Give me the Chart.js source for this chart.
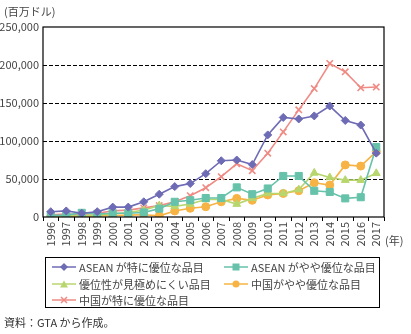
<!DOCTYPE html>
<html lang="ja">
<head>
<meta charset="UTF-8">
<title>品目別輸入額</title>
<script src="https://cdn.jsdelivr.net/npm/chart.js"></script>
<style>
  body { margin: 0; background: #fff; font-family: "Noto Sans CJK JP", "Noto Sans", sans-serif; color: #333; }
  #wrap { position: relative; width: 411px; height: 334px; }
  #unit { position: absolute; left: 4px; top: 3px; font-size: 11px; color: #444; }
  #year { position: absolute; left: 385px; top: 232px; font-size: 11px; color: #444; }
  #legend { position: absolute; left: 45px; top: 257px; width: 335px; height: 51px; border: 1px solid #000;
            display: grid; grid-template-columns: 172px 160px; grid-auto-rows: 16.5px; padding-top: 1px; box-sizing: border-box; }
  #legend div { font-size: 11px; color: #444; white-space: nowrap; display: flex; align-items: center; }
  #legend svg { margin: 0 3px 0 6px; }
  #note { position: absolute; left: 4px; top: 314px; font-size: 11px; color: #333; }
</style>
<script>
const years = ['1996','1997','1998','1999','2000','2001','2002','2003','2004','2005','2006',
               '2007','2008','2009','2010','2011','2012','2013','2014','2015','2016','2017']
const seriesNames = ['ASEAN が特に優位な品目', 'ASEAN がやや優位な品目', '優位性が見極めにくい品目',
                     '中国がやや優位な品目', '中国が特に優位な品目']
const aseanStrong = [7000, 8000, 5000, 7000, 13000, 13000, 20000, 30000, 40000, 44000, 57000,
                     74000, 75000, 69000, 108000, 131000, 129000, 133000, 146000, 127000, 121000, 84000]
const aseanSlight = [2000, 2500, 5500, 4000, 5000, 5000, 6000, 11000, 20000, 22000, 25000,
                     25000, 39000, 30000, 37500, 54000, 54000, 34500, 33000, 24500, 26000, 92000]
const unclear = [1000, 1500, 2000, 2500, 4000, 6000, 9000, 15000, 14000, 17000, 23000,
                 23000, 17000, 24500, 31000, 31000, 36000, 58000, 52000, 48500, 48500, 57500]
const chinaSlight = [500, 1000, 1000, 1500, 2000, 2500, 3000, 1500, 8000, 11500, 13500,
                     20000, 24500, 22000, 29000, 31000, 34500, 45000, 42000, 68500, 67000, 86000]
const chinaStrong = [3000, 4000, 3000, 5000, 8000, 9000, 12000, 15000, 20000, 28000, 38500,
                     53000, 70000, 61000, 84000, 112000, 141000, 169000, 202000, 191000, 170000, 171000]
const gridValues = [50000, 100000, 150000, 200000]

const colors = ['#6e6bb5', '#66c2aa', '#b8d66e', '#f7b343', '#ef8b84']
const shapes = ['rectRot', 'rect', 'triangle', 'circle', 'crossRot']
const radii = [4, 5, 4.5, 4, 4.5]

window.onload = () => {
  const values = [aseanStrong, aseanSlight, unclear, chinaSlight, chinaStrong]

  // dashed horizontal grid and a solid box around the plot area
  const frame = {
    id: 'frame',
    beforeDatasetsDraw(chart) {
      const a = chart.chartArea, ctx = chart.ctx, y = chart.scales.y
      ctx.save()
      ctx.strokeStyle = '#000'
      ctx.lineWidth = 1
      ctx.setLineDash([4, 2])
      gridValues.forEach(v => {
        const py = Math.round(y.getPixelForValue(v)) + 0.5
        ctx.beginPath()
        ctx.moveTo(a.left, py)
        ctx.lineTo(a.right, py)
        ctx.stroke()
      })
      ctx.restore()
    },
    afterDraw(chart) {
      const a = chart.chartArea, ctx = chart.ctx
      ctx.save()
      ctx.strokeStyle = '#000'
      ctx.lineWidth = 1.2
      ctx.strokeRect(a.left, a.top, a.right - a.left, a.bottom - a.top)
      ctx.restore()
    }
  }

  new Chart(document.getElementById('viz'), {
    type: 'line',
    data: {
      labels: years,
      datasets: values.map((v, i) => ({
        label: seriesNames[i],
        data: v,
        borderColor: colors[i],
        backgroundColor: colors[i],
        borderWidth: 1.6,
        pointStyle: shapes[i],
        pointRadius: radii[i],
        pointBorderWidth: shapes[i] === 'crossRot' ? 1.6 : 1,
        tension: 0
      }))
    },
    options: {
      responsive: false,
      animation: false,
      layout: { padding: { top: 27, right: 27, left: 0, bottom: 0 } },
      plugins: { legend: { display: false }, tooltip: { enabled: false } },
      scales: {
        x: {
          offset: true,
          grid: { offset: true, drawOnChartArea: false, drawTicks: true, tickLength: 4, color: '#000' },
          border: { display: false },
          ticks: { autoSkip: false, maxRotation: 90, minRotation: 90, padding: 1, color: '#444',
                   font: { family: 'Noto Sans CJK JP', size: 11 } },
          afterFit: s => { s.height = 41 }
        },
        y: {
          min: 0, max: 250000,
          ticks: { stepSize: 50000, color: '#444', padding: 4,
                   font: { family: 'Noto Sans CJK JP', size: 11 },
                   callback: v => v.toLocaleString('en-US') },
          grid: { drawOnChartArea: false, drawTicks: false },
          border: { display: false },
          afterFit: s => { s.width = 43 }
        }
      }
    },
    plugins: [frame]
  })

  // legend with line + marker swatches
  const legend = document.getElementById('legend')
  const mark = i => {
    const c = colors[i]
    let m = ''
    if (shapes[i] === 'rectRot') m = `<polygon points="12,2 16,6 12,10 8,6" fill="${c}"/>`
    if (shapes[i] === 'rect') m = `<rect x="8.5" y="2.5" width="7" height="7" fill="${c}"/>`
    if (shapes[i] === 'triangle') m = `<polygon points="12,2.5 16,9.5 8,9.5" fill="${c}"/>`
    if (shapes[i] === 'circle') m = `<circle cx="12" cy="6" r="3.5" fill="${c}"/>`
    if (shapes[i] === 'crossRot') m = `<path d="M9 3L15 9M15 3L9 9" stroke="${c}" stroke-width="1.5"/>`
    return `<svg width="24" height="12"><line x1="0" y1="6" x2="24" y2="6" stroke="${c}" stroke-width="1.5"/>${m}</svg>`
  }
  legend.innerHTML = seriesNames.map((n, i) => `<div>${mark(i)}<span>${n}</span></div>`).join('')
}
</script>
</head>
<body>
<div id="wrap">
  <canvas id="viz" width="411" height="258" style="position:absolute;left:0;top:0"></canvas>
  <div id="unit">(百万ドル)</div>
  <div id="year">(年)</div>
  <div id="legend"></div>
  <div id="note">資料：GTA から作成。</div>
</div>
</body>
</html>
